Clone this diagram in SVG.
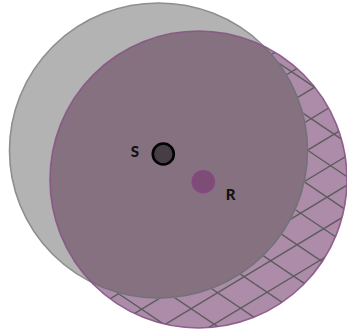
<svg xmlns="http://www.w3.org/2000/svg" width="347" height="336" viewBox="0 0 347 336">
  <defs>
    <clipPath id="purpleClip">
      <ellipse cx="198.5" cy="179.5" rx="148.5" ry="148.5"/>
    </clipPath>
    <clipPath id="grayClip">
      <ellipse cx="158.5" cy="150.5" rx="149" ry="147.5"/>
    </clipPath>
    <style>
      .lbl { font-family: "Lato", "Liberation Sans", sans-serif; font-weight: 900; font-size: 15px; fill: #111; }
      .hatch line { stroke: #5c5c5c; stroke-width: 1.4; }
    </style>
  </defs>
  <g id="purple-region">
    <ellipse cx="198.5" cy="179.5" rx="148.5" ry="148.5" fill="#ad8caa"/>
    <g class="hatch" clip-path="url(#purpleClip)">
      <line x1="-226.4" y1="61.2" x2="463.6" y2="526.2"/>
      <line x1="-199.9" y1="45.2" x2="490.1" y2="510.2"/>
      <line x1="-173.4" y1="29.2" x2="516.6" y2="494.2"/>
      <line x1="-146.9" y1="13.2" x2="543.1" y2="478.2"/>
      <line x1="-120.4" y1="-2.8" x2="569.6" y2="462.2"/>
      <line x1="-93.9" y1="-18.8" x2="596.1" y2="446.2"/>
      <line x1="-67.4" y1="-34.8" x2="622.6" y2="430.2"/>
      <line x1="-40.9" y1="-50.8" x2="649.1" y2="414.2"/>
      <line x1="-14.4" y1="-66.8" x2="675.6" y2="398.2"/>
      <line x1="12.1" y1="-82.8" x2="702.1" y2="382.2"/>
      <line x1="38.6" y1="-98.8" x2="728.6" y2="366.2"/>
      <line x1="-277.4" y1="297.7" x2="517.6" y2="-182.3"/>
      <line x1="-254.4" y1="313.2" x2="540.6" y2="-166.8"/>
      <line x1="-231.4" y1="328.7" x2="563.6" y2="-151.3"/>
      <line x1="-208.4" y1="344.2" x2="586.6" y2="-135.8"/>
      <line x1="-185.4" y1="359.7" x2="609.6" y2="-120.3"/>
      <line x1="-162.4" y1="375.2" x2="632.6" y2="-104.8"/>
      <line x1="-139.4" y1="390.7" x2="655.6" y2="-89.3"/>
      <line x1="-116.4" y1="406.2" x2="678.6" y2="-73.8"/>
      <line x1="-93.4" y1="421.7" x2="701.6" y2="-58.3"/>
      <line x1="-70.4" y1="437.2" x2="724.6" y2="-42.8"/>
      <line x1="-47.4" y1="452.7" x2="747.6" y2="-27.3"/>
      <line x1="-24.4" y1="468.2" x2="770.6" y2="-11.8"/>
    </g>
  </g>
  <g id="gray-region">
    <ellipse cx="158.5" cy="150.5" rx="149" ry="147.5" fill="#b3b3b3" stroke="#8e8e8e" stroke-width="1.6"/>
  </g>
  <g id="overlap">
    <ellipse cx="198.5" cy="179.5" rx="148.5" ry="148.5" fill="#85717f" clip-path="url(#grayClip)"/>
  </g>
  <g id="outlines">
    <ellipse cx="158.5" cy="150.5" rx="149" ry="147.5" fill="none" stroke="#72707a" stroke-width="1.4" clip-path="url(#purpleClip)"/>
    <ellipse cx="198.5" cy="179.5" rx="148.5" ry="148.5" fill="none" stroke="#8a5486" stroke-width="1.6" opacity="0.9"/>
  </g>
  <g id="node-S">
    <circle cx="163.3" cy="154" r="10.5" fill="#463e44" stroke="#000" stroke-width="2.6"/>
    <text class="lbl" x="135" y="157" text-anchor="middle">S</text>
  </g>
  <g id="node-R">
    <circle cx="203.3" cy="181.7" r="11" fill="#7d4d78" stroke="#864a80" stroke-width="1.6"/>
    <text class="lbl" x="230.7" y="199.5" text-anchor="middle">R</text>
  </g>
</svg>
